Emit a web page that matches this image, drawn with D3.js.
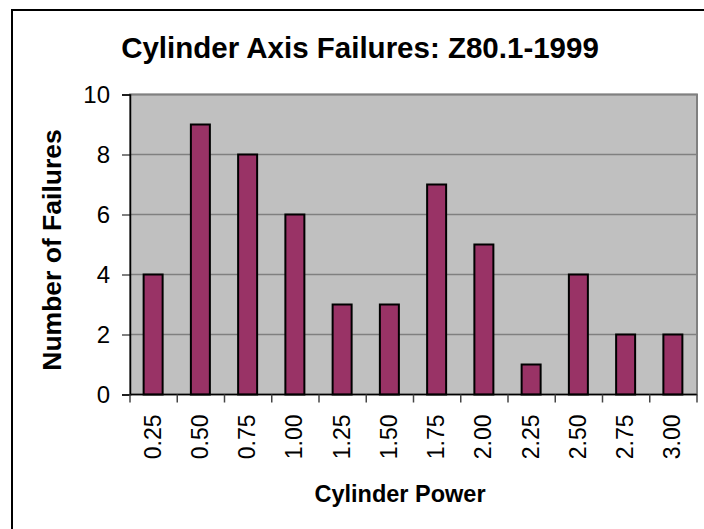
<!DOCTYPE html>
<html>
<head>
    <title>Cylinder Axis Failures</title>
    <script src="https://cdn.jsdelivr.net/npm/d3@7"></script>
    <style>
        html, body { margin: 0; padding: 0; background: #fff; overflow: hidden; }
        svg { display: block; }
        text { font-family: 'Liberation Sans', Arial, sans-serif; }
    </style>
</head>
<body>
    <svg width="704" height="529" id="mainsvg"></svg>
    <script>
        // data
        const powers = ['0.25', '0.50', '0.75', '1.00', '1.25', '1.50', '1.75', '2.00', '2.25', '2.50', '2.75', '3.00'];
        const failures = [4, 9, 8, 6, 3, 3, 7, 5, 1, 4, 2, 2];
        const yTicks = [0, 2, 4, 6, 8, 10];

        const data = powers.map((p, i) => ({ power: p, count: failures[i] }));

        const svg = d3.select('svg');
        const margin = { top: 94.5, right: 7, bottom: 134.5, left: 130 };
        const width = +svg.attr('width');
        const height = +svg.attr('height');
        const innerWidth = width - margin.left - margin.right;
        const innerHeight = height - margin.top - margin.bottom;

        // chart frame: only left and top edges are inside the picture
        svg.append('path')
            .attr('d', `M12,${height} L12,10 L${width},10`)
            .attr('fill', 'none').attr('stroke', '#000').attr('stroke-width', 2);

        const g = svg.append('g')
            .attr('transform', `translate(${margin.left}, ${margin.top})`);

        const xBand = d3.scaleBand().domain(powers).range([0, innerWidth]);
        const yScale = d3.scaleLinear().domain([0, 10]).range([innerHeight, 0]);

        // plot area
        g.append('rect')
            .attr('width', innerWidth).attr('height', innerHeight)
            .attr('fill', '#c0c0c0').attr('stroke', '#808080').attr('stroke-width', 2);

        // gridlines
        g.selectAll('.grid').data(yTicks.slice(1)).join('line')
            .attr('class', 'grid')
            .attr('x1', 0).attr('x2', innerWidth)
            .attr('y1', d => yScale(d)).attr('y2', d => yScale(d))
            .attr('stroke', '#808080').attr('stroke-width', 1.5);

        // bars
        g.selectAll('.bar').data(data).join('rect')
            .attr('class', 'bar')
            .attr('x', d => xBand(d.power) + xBand.bandwidth() / 2 - 10)
            .attr('width', 19)
            .attr('y', d => yScale(d.count))
            .attr('height', d => innerHeight - yScale(d.count))
            .attr('fill', '#993366').attr('stroke', '#000').attr('stroke-width', 2);

        // y axis (ticks from d3, labels placed in page coordinates)
        const yAxis = g.append('g').call(d3.axisLeft(yScale).tickValues(yTicks).tickSize(8).tickFormat(''));
        yAxis.select('.domain').attr('stroke', '#000').attr('stroke-width', 1.5);
        yAxis.selectAll('.tick line').attr('stroke', '#000');
        svg.selectAll('.yl').data(yTicks).join('text')
            .attr('class', 'yl')
            .attr('x', margin.left - 20)
            .attr('y', d => margin.top + yScale(d) + 8.5)
            .attr('text-anchor', 'end')
            .attr('font-size', 24)
            .text(d => d);

        // x axis: ticks at category boundaries
        const xAxisG = g.append('g').attr('transform', `translate(0, ${innerHeight})`);
        xAxisG.append('line')
            .attr('x1', 0).attr('x2', innerWidth).attr('y1', 0).attr('y2', 0)
            .attr('stroke', '#000').attr('stroke-width', 1.5);
        const bounds = powers.map(p => xBand(p)).concat([innerWidth]);
        xAxisG.selectAll('.xt').data(bounds).join('line')
            .attr('class', 'xt')
            .attr('x1', d => d).attr('x2', d => d).attr('y1', 0).attr('y2', 8)
            .attr('stroke', '#444').attr('stroke-width', 1.5);
        svg.selectAll('.xl').data(powers).join('text')
            .attr('class', 'xl')
            .attr('transform', d => `translate(${margin.left + xBand(d) + xBand.bandwidth() / 2 + 7}, ${margin.top + innerHeight + 20}) rotate(-90)`)
            .attr('text-anchor', 'end')
            .attr('font-size', 23)
            .text(d => d);

        // titles
        svg.append('text')
            .attr('x', 360).attr('y', 58).attr('text-anchor', 'middle')
            .attr('font-size', 29.5).attr('font-weight', 'bold')
            .text('Cylinder Axis Failures: Z80.1-1999');

        svg.append('text')
            .attr('x', 400).attr('y', 502).attr('text-anchor', 'middle')
            .attr('font-size', 23.5).attr('font-weight', 'bold')
            .text('Cylinder Power');

        svg.append('text')
            .attr('transform', 'translate(61, 250) rotate(-90)')
            .attr('text-anchor', 'middle')
            .attr('font-size', 26.5).attr('font-weight', 'bold')
            .text('Number of Failures');
    </script>
</body>
</html>
